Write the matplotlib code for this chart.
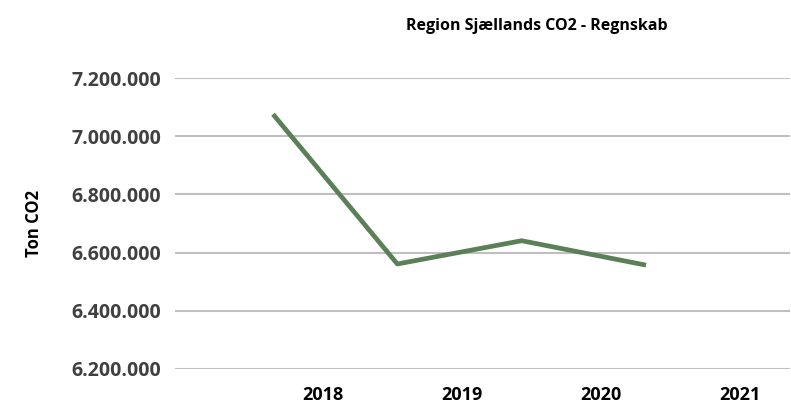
import matplotlib
matplotlib.use("Agg")
import matplotlib.pyplot as plt
from matplotlib.ticker import FuncFormatter

# data
years = ["2018", "2019", "2020", "2021"]
co2_ton = [7076000, 6561000, 6641000, 6557000]
y_ticks = [6200000, 6400000, 6600000, 6800000, 7000000, 7200000]

plt.rcParams['font.family'] = ['Open Sans', 'DejaVu Sans']


def dk_fmt(v, pos):
    # danish thousands separator
    return f"{int(round(v)):,}".replace(",", ".")


def main():
    fig = plt.figure(figsize=(7.91, 4.05), dpi=100)
    ax = fig.add_axes([0.221, 0.089, 0.778, 0.718])

    xs = list(range(len(years)))
    ax.plot(xs, co2_ton, color='#5b7f56', linewidth=3.4, solid_capstyle='butt')

    ax.set_ylim(y_ticks[0], y_ticks[-1])
    ax.set_xlim(-0.79, 4.16)
    ax.set_yticks(y_ticks)
    ax.yaxis.set_major_formatter(FuncFormatter(dk_fmt))
    ax.grid(axis='y', color='#bfbfbf', linewidth=1.5)
    ax.set_axisbelow(True)
    ax.set_xticks([])
    for s in ax.spines.values():
        s.set_visible(False)
    ax.tick_params(axis='y', length=0, pad=10, labelsize=14, labelcolor='#404040')
    for lbl in ax.get_yticklabels():
        lbl.set_fontweight('bold')

    # category labels sit on their own bottom axis (offset from the line points)
    ax2 = ax.twiny()
    ax2.xaxis.set_ticks_position('bottom')
    ax2.set_xlim(-1.065, 3.36)
    ax2.set_xticks(xs)
    ax2.set_xticklabels(years, fontsize=13, fontweight='bold', color='black')
    ax2.tick_params(axis='x', length=0, pad=12)
    for s in ax2.spines.values():
        s.set_visible(False)

    ax.set_ylabel("Ton CO2", fontsize=12, fontweight='bold')
    ax.yaxis.set_label_coords(-0.214, 0.5)

    fig.text(0.679, 0.935, "Region Sjællands CO2 - Regnskab", ha='center', va='center',
             fontsize=11.5, fontweight='bold')

    fig.savefig("out.png", dpi=100)
    plt.close(fig)


main()
